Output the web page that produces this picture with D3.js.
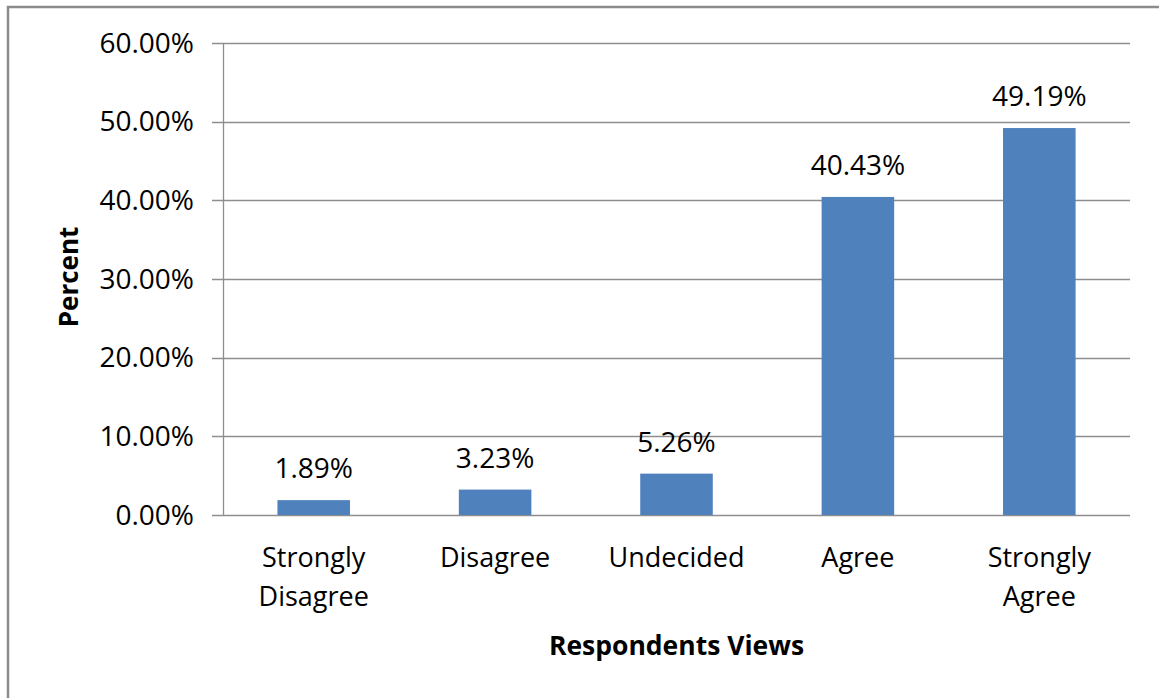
<!DOCTYPE html>
<html>
<head>
<meta charset="utf-8">
<script src="https://cdn.jsdelivr.net/npm/d3@7"></script>
<style>
  body { margin: 0; background: #fff; }
  text { font-family: "Open Sans", sans-serif; fill: #000; }
</style>
</head>
<body>
<div id="chart"></div>
<script>
// data
const categories = [["Strongly", "Disagree"], ["Disagree"], ["Undecided"], ["Agree"], ["Strongly", "Agree"]];
const values = [1.89, 3.23, 5.26, 40.43, 49.19];
const yTicks = [0, 10, 20, 30, 40, 50, 60];

const width = 1159, height = 698;
const margin = { top: 43, right: 29, bottom: 183, left: 223 };

const svg = d3.select("#chart")
    .append("svg")
    .attr("width", width)
    .attr("height", height);

// outer frame (only top/left edges visible)
svg.append("rect")
    .attr("x", 8).attr("y", 7)
    .attr("width", width + 20).attr("height", height + 20)
    .attr("fill", "none")
    .attr("stroke", "#8c8c8c")
    .attr("stroke-width", 2.5);

const x = d3.scaleBand()
    .domain(d3.range(categories.length))
    .range([margin.left, width - margin.right])
    .paddingInner(0.6)
    .paddingOuter(0.3);

const y = d3.scaleLinear()
    .domain([0, 60])
    .range([height - margin.bottom, margin.top]);

// gridlines
svg.append("g")
    .selectAll("line")
    .data(yTicks)
    .enter().append("line")
    .attr("x1", margin.left - 11)
    .attr("x2", width - margin.right)
    .attr("y1", d => Math.round(y(d)) + 0.5)
    .attr("y2", d => Math.round(y(d)) + 0.5)
    .attr("stroke", "#8e8e8e")
    .attr("stroke-width", 1.3);

// y axis line
svg.append("line")
    .attr("x1", margin.left + 0.5).attr("x2", margin.left + 0.5)
    .attr("y1", y(60)).attr("y2", y(0))
    .attr("stroke", "#8e8e8e")
    .attr("stroke-width", 1.3);

// tick labels
svg.append("g")
    .selectAll("text")
    .data(yTicks)
    .enter().append("text")
    .attr("x", 194)
    .attr("y", d => y(d))
    .attr("dy", "0.35em")
    .attr("text-anchor", "end")
    .attr("font-size", 28)
    .attr("fill", "#222")
    .text(d => d.toFixed(2) + "%");

// bars
svg.append("g")
    .selectAll("rect")
    .data(values)
    .enter().append("rect")
    .attr("x", (d, i) => x(i))
    .attr("width", x.bandwidth())
    .attr("y", d => y(d))
    .attr("height", d => y(0) - y(d))
    .attr("fill", "#4f81bd");

// value labels
svg.append("g")
    .selectAll("text")
    .data(values)
    .enter().append("text")
    .attr("x", (d, i) => x(i) + x.bandwidth() / 2)
    .attr("y", d => y(d) - 22)
    .attr("text-anchor", "middle")
    .attr("font-size", 28)
    .attr("fill", "#222")
    .text(d => d.toFixed(2) + "%");

// category labels
const cat = svg.append("g")
    .selectAll("text")
    .data(categories)
    .enter().append("text")
    .attr("x", (d, i) => x(i) + x.bandwidth() / 2)
    .attr("y", 567)
    .attr("text-anchor", "middle")
    .attr("font-size", 27)
    .attr("fill", "#222");

cat.selectAll("tspan")
    .data(d => d)
    .enter().append("tspan")
    .attr("x", function() { return d3.select(this.parentNode).attr("x"); })
    .attr("dy", (d, i) => i ? 39 : 0)
    .text(d => d);

// axis titles
svg.append("text")
    .attr("x", (margin.left + width - margin.right) / 2)
    .attr("y", 655)
    .attr("text-anchor", "middle")
    .attr("font-size", 26.5)
    .attr("font-weight", "bold")
    .text("Respondents Views");

svg.append("text")
    .attr("transform", "translate(78,277) rotate(-90)")
    .attr("text-anchor", "middle")
    .attr("font-size", 26)
    .attr("font-weight", "bold")
    .text("Percent");
</script>
</body>
</html>
